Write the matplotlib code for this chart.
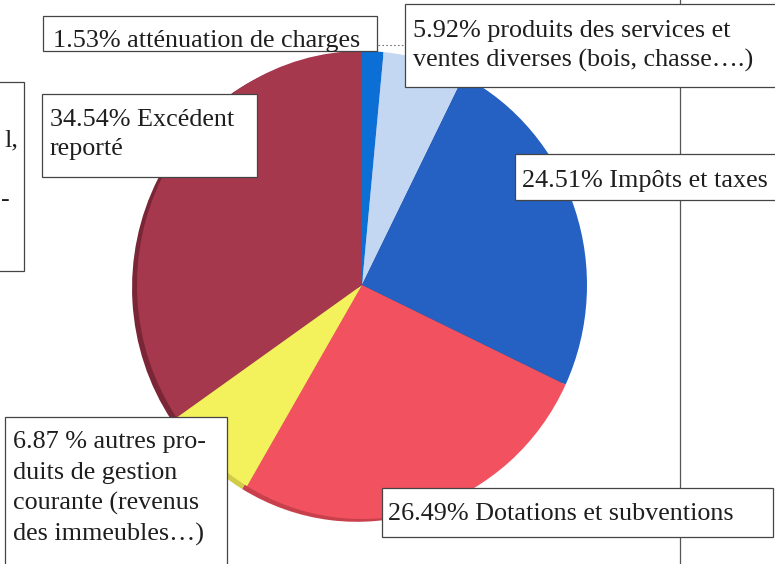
import matplotlib.pyplot as plt
from matplotlib.patches import Rectangle

# données du graphique (recettes de fonctionnement)
parts = [1.53, 5.92, 24.51, 26.49, 6.87, 34.54]
couleurs = ['#0b6fd6', '#c3d7f3', '#2461c2', '#f2525f', '#f3f15c', '#a6384e']
ombres = ['#084f9a', '#8fa6c8', '#183f86', '#c8404c', '#d0cc48', '#7a2637']

# étiquettes : (lignes de texte, cadre x0, y0, x1, y1, x texte, lignes de base)
etiquettes = [
    (['1.53% atténuation de charges'], (43, 16, 377, 51), 53, [47]),
    (['5.92% produits des services et', 'ventes diverses (bois, chasse….)'],
     (405, 4, 778, 87), 413, [37, 67]),
    (['34.54% Excédent', 'reporté'], (42, 94, 257, 177), 50, [126, 155]),
    (['24.51% Impôts et taxes'], (515, 154, 778, 200), 522, [187]),
    (['6.87 % autres pro-', 'duits de gestion', 'courante (revenus', 'des immeubles…)'],
     (5, 417, 227, 570), 13, [448, 479, 510, 541]),
    (['26.49% Dotations et subventions'], (382, 488, 773, 537), 388, [520]),
]

W, H = 775, 564
fig = plt.figure(figsize=(W / 100, H / 100), dpi=100)
fig.patch.set_facecolor('white')

# camembert (légèrement elliptique, avec une tranche en relief)
cx, cy, rx, ry = 362, 285, 225, 234
k = 1.06
ax = fig.add_axes([(cx - rx * k) / W, 1 - (cy + ry * k) / H, 2 * rx * k / W, 2 * ry * k / H])
ax.pie(parts, colors=ombres, startangle=90, counterclock=False, center=(-0.022, -0.012),
       wedgeprops=dict(linewidth=0))
ax.pie(parts, colors=couleurs, startangle=90, counterclock=False,
       wedgeprops=dict(linewidth=0))
ax.set_aspect('auto')
ax.set_xlim(-k, k)
ax.set_ylim(-k, k)
ax.axis('off')

# calque pour les cadres et les textes, en coordonnées pixels
ov = fig.add_axes([0, 0, 1, 1])
ov.set_xlim(0, W)
ov.set_ylim(H, 0)
ov.axis('off')
ov.patch.set_alpha(0)

ov.plot([680, 680], [0, H], color='#555555', lw=0.9, zorder=1)
ov.plot([378, 405], [45, 45], color='#777777', lw=0.8, ls=(0, (1.5, 2)), zorder=1)

# cadre partiellement visible à gauche
ov.add_patch(Rectangle((-5, 82), 29, 189, facecolor='white', edgecolor='#444444', lw=0.9, zorder=2))
ov.text(4, 146, 'l,', fontsize=18.8, family='Liberation Serif', va='baseline', color='#1e1e1e', zorder=3)
ov.text(1, 206, '-', fontsize=18.8, family='Liberation Serif', va='baseline', color='#1e1e1e', zorder=3)

for lignes, (x0, y0, x1, y1), tx, bases in etiquettes:
    ov.add_patch(Rectangle((x0, y0), x1 - x0, y1 - y0, facecolor='white',
                           edgecolor='#444444', lw=0.9, zorder=2))
    for ligne, b in zip(lignes, bases):
        ov.text(tx, b, ligne, fontsize=18.8, family='Liberation Serif',
                va='baseline', ha='left', color='#1e1e1e', zorder=3)

fig.savefig('out.png', dpi=100)
